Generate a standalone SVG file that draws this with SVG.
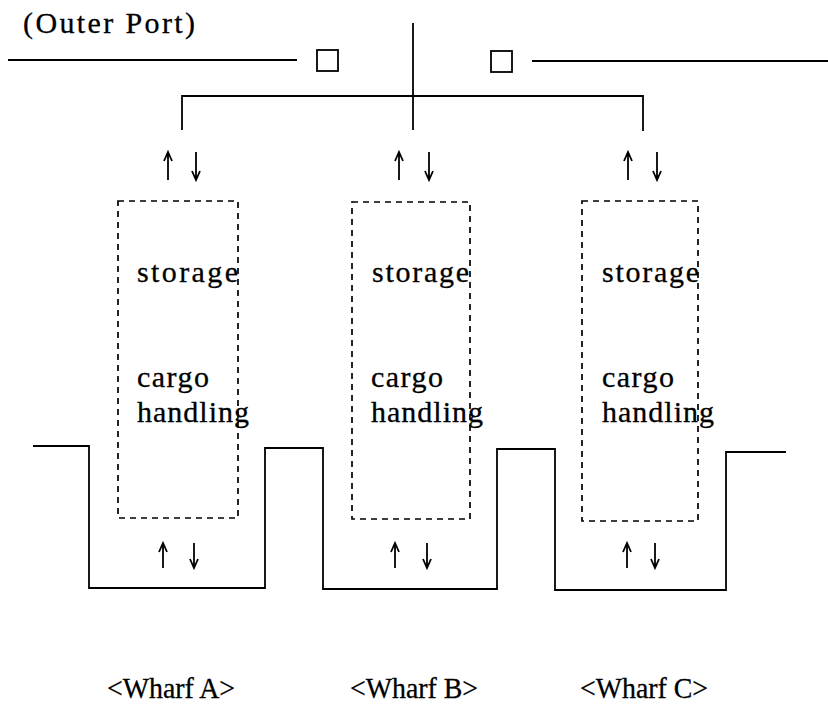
<svg xmlns="http://www.w3.org/2000/svg" width="828" height="713" viewBox="0 0 828 713">
<style>
.t{font-family:"Liberation Serif","DejaVu Serif",serif;font-size:30px;fill:#000;stroke:#000;stroke-width:0.3}
.ln{fill:none;stroke:#000;stroke-width:1.8}
.box{fill:none;stroke:#000;stroke-width:1.7;stroke-dasharray:6 5}
.ar{fill:none;stroke:#000;stroke-width:1.8}
</style>
<rect width="828" height="713" fill="#fff"/>
<g id="outer-port">
<text class="t" x="23" y="33" textLength="172" lengthAdjust="spacing">(Outer Port)</text>
<path class="ln" d="M8,60 H297 M532,61 H828"/>
<rect class="ln" x="317" y="50" width="21" height="21"/>
<rect class="ln" x="491" y="51" width="21" height="21"/>
</g>
<g id="connectors">
<path class="ln" d="M413,23 V130 M182,130 V96 H643 V131"/>
<path class="ar" d="M168,180 V152 M164,161 L168,152 L172,161 M196,152 V180 M192,171 L196,180 L200,171"/>
<path class="ar" d="M399,180 V152 M395,161 L399,152 L403,161 M429,152 V180 M425,171 L429,180 L433,171"/>
<path class="ar" d="M628,180 V152 M624,161 L628,152 L632,161 M657,152 V180 M653,171 L657,180 L661,171"/>
<path class="ar" d="M163,568 V543 M159,552 L163,543 L167,552 M194,543 V568 M190,559 L194,568 L198,559"/>
<path class="ar" d="M395,568 V543 M391,552 L395,543 L399,552 M427,543 V568 M423,559 L427,568 L431,559"/>
<path class="ar" d="M627,568 V543 M623,552 L627,543 L631,552 M655,543 V568 M651,559 L655,568 L659,559"/>
</g>
<g id="quay">
<path class="ln" d="M33,446 H89 V588 H265 V448 H323 V589 H497 V449 H555 V590 H726 V452 H786"/>
</g>
<g id="wharf-a">
<rect class="box" x="118" y="201" width="120" height="317"/>
<text class="t" x="137" y="282" textLength="101" lengthAdjust="spacing">storage</text>
<text class="t" x="137" y="387" textLength="72" lengthAdjust="spacing">cargo</text>
<text class="t" x="137" y="422" textLength="112" lengthAdjust="spacing">handling</text>
<text class="t" x="107" y="698" textLength="128" lengthAdjust="spacingAndGlyphs">&lt;Wharf A&gt;</text>
</g>
<g id="wharf-b">
<rect class="box" x="352" y="202" width="118" height="317"/>
<text class="t" x="372" y="282" textLength="97" lengthAdjust="spacing">storage</text>
<text class="t" x="371" y="387" textLength="72" lengthAdjust="spacing">cargo</text>
<text class="t" x="371" y="422" textLength="112" lengthAdjust="spacing">handling</text>
<text class="t" x="350" y="698" textLength="128" lengthAdjust="spacingAndGlyphs">&lt;Wharf B&gt;</text>
</g>
<g id="wharf-c">
<rect class="box" x="582" y="201" width="116" height="320"/>
<text class="t" x="602" y="282" textLength="97" lengthAdjust="spacing">storage</text>
<text class="t" x="602" y="387" textLength="72" lengthAdjust="spacing">cargo</text>
<text class="t" x="602" y="422" textLength="112" lengthAdjust="spacing">handling</text>
<text class="t" x="580" y="698" textLength="128" lengthAdjust="spacingAndGlyphs">&lt;Wharf C&gt;</text>
</g>
</svg>
